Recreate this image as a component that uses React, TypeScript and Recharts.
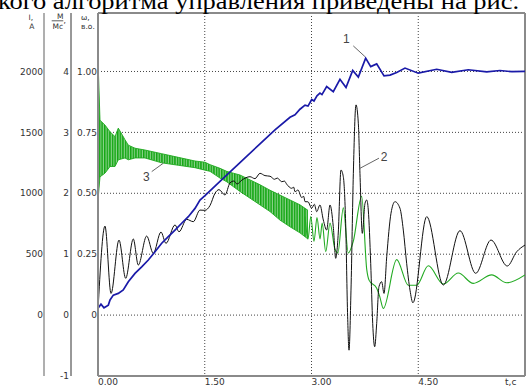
import React from 'react';
import {
  ComposedChart,
  Line,
  Area,
  XAxis,
  YAxis,
  CartesianGrid,
  ReferenceLine,
  ReferenceDot,
} from 'recharts';

// ---- tick values ----
const timeTicks = [0, 1.5, 3, 4.5];
const currentTicks = [0, 500, 1000, 1500, 2000];
const torqueTicks = [-1, 0, 1, 2, 3, 4];
const speedTicks = [0, 0.25, 0.5, 0.75, 1];

// ---- curve 1: speed ω, p.u. ----
const speedT = [0, 0.042, 0.084, 0.145, 0.169, 0.215, 0.285, 0.355, 0.426, 0.52, 0.614, 0.707, 0.801, 0.895, 0.988, 1.082, 1.176, 1.269, 1.363, 1.433, 1.503, 1.714, 1.995, 2.276, 2.487, 2.698, 2.768, 2.838, 2.909, 2.951, 3.003, 3.035, 3.077, 3.119, 3.147, 3.213, 3.306, 3.4, 3.485, 3.579, 3.658, 3.761, 3.832, 3.916, 4.019, 4.103, 4.197, 4.314, 4.5, 4.759, 4.97, 5.203, 5.462, 5.648, 5.817, 6.0];
const speedW = [0.028, 0.045, 0.03, 0.041, 0.062, 0.082, 0.089, 0.103, 0.137, 0.171, 0.198, 0.226, 0.26, 0.295, 0.322, 0.349, 0.377, 0.404, 0.438, 0.472, 0.49, 0.549, 0.626, 0.703, 0.76, 0.812, 0.822, 0.845, 0.862, 0.858, 0.885, 0.879, 0.9, 0.911, 0.905, 0.938, 0.917, 0.968, 0.934, 1.004, 0.977, 1.055, 1.02, 1.031, 0.982, 0.985, 0.996, 1.014, 0.993, 1.009, 0.996, 1.007, 0.998, 1.004, 0.999, 1.0];

// ---- curve 2: current I, A ----
const currentT = [0, 0.098, 0.183, 0.295, 0.389, 0.496, 0.566, 0.684, 0.777, 0.885, 0.955, 1.082, 1.138, 1.246, 1.339, 1.433, 1.503, 1.574, 1.644, 1.7, 1.784, 1.855, 1.911, 1.953, 2.023, 2.136, 2.206, 2.276, 2.346, 2.417, 2.48, 2.52, 2.581, 2.62, 2.651, 2.722, 2.75, 2.768, 2.81, 2.862, 2.89, 2.909, 2.95, 3.003, 3.04, 3.073, 3.119, 3.166, 3.213, 3.26, 3.306, 3.34, 3.376, 3.414, 3.447, 3.48, 3.508, 3.527, 3.555, 3.588, 3.625, 3.658, 3.681, 3.714, 3.752, 3.776, 3.798, 3.832, 3.86, 3.888, 3.916, 3.948, 3.986, 4.019, 4.057, 4.117, 4.173, 4.243, 4.29, 4.337, 4.384, 4.425, 4.619, 4.852, 5.086, 5.307, 5.522, 5.751, 5.883, 6.0];
const currentA = [40, 731, 178, 616, 302, 625, 411, 649, 507, 682, 589, 740, 684, 786, 767, 862, 860, 900, 1000, 1030, 986, 1085, 1101, 1076, 1109, 1136, 1120, 1164, 1145, 1140, 1115, 1125, 1095, 1100, 1075, 1041, 1050, 1013, 1027, 965, 975, 931, 930, 877, 910, 849, 904, 781, 698, 904, 726, 466, 674, 1191, 1136, 754, -14, -288, 205, 1164, 1726, 1575, 1164, 671, 918, 945, 863, 425, -68, -260, -68, 233, 274, 178, 479, 836, 931, 877, 698, 425, 205, 101, 808, 247, 693, 343, 616, 403, 520, 575];

// ---- curve 3: torque M/Mc, dense oscillation band (envelope) ----
const torqueBandT = [0, 0.028, 0.098, 0.169, 0.239, 0.285, 0.379, 0.426, 0.52, 0.66, 0.895, 1.128, 1.363, 1.503, 1.574, 1.714, 1.808, 1.901, 1.995, 2.136, 2.276, 2.417, 2.557, 2.698, 2.838, 2.95];
const torqueBandLo = [1.89, 2.27, 2.33, 2.44, 2.44, 2.55, 2.58, 2.55, 2.58, 2.58, 2.5, 2.46, 2.42, 2.38, 2.36, 2.25, 2.19, 2.11, 2.03, 1.92, 1.81, 1.7, 1.56, 1.45, 1.35, 1.25];
const torqueBandHi = [4.19, 3.2, 3.12, 3.01, 2.93, 3.07, 2.88, 2.79, 2.74, 2.71, 2.65, 2.59, 2.53, 2.51, 2.47, 2.41, 2.36, 2.33, 2.3, 2.22, 2.14, 2.05, 1.97, 1.89, 1.81, 1.72];

// ---- curve 3: torque M/Mc, resolved part ----
const torqueT = [2.909, 2.951, 2.99, 3.035, 3.077, 3.12, 3.15, 3.2, 3.26, 3.33, 3.37, 3.447, 3.517, 3.587, 3.705, 3.776, 3.81, 3.916, 3.96, 4.009, 4.197, 4.36, 4.478, 4.641, 4.852, 5.063, 5.273, 5.532, 5.743, 6.0];
const torqueM = [1.62, 1.25, 1.62, 1.21, 1.6, 1.25, 1.51, 1.04, 1.51, 1.08, 1.02, 1.76, 1.02, 1.21, 1.95, 0.75, 0.57, 0.44, 0.3, 0.11, 0.91, 0.49, 0.49, 0.81, 0.51, 0.69, 0.52, 0.66, 0.53, 0.66];

const speedData = speedT.map((t, i) => ({ t, v: speedW[i] }));
const currentData = currentT.map((t, i) => ({ t, v: currentA[i] }));
const bandData = torqueBandT.map((t, i) => ({ t, r: [torqueBandLo[i], torqueBandHi[i]] }));
const torqueData = torqueT.map((t, i) => ({ t, v: torqueM[i] }));

// axis ids: sorted order places "a" next to the plot, "c" outermost
const W_AXIS = 'a_speed';
const M_AXIS = 'b_torque';
const I_AXIS = 'c_current';

const FONT = 'DejaVu Sans, Verdana, sans-serif';
const TICK_COLOR = '#333';

const fmtSpeed = (v: number) => (v === 0 ? '0' : v.toFixed(2));

const makeYTick = (fmt: (v: number) => string) => (props: any) => (
  <text
    x={props.x}
    y={props.y}
    dy={3.2}
    textAnchor="end"
    fontSize={9}
    fontFamily={FONT}
    fill={TICK_COLOR}
  >
    {fmt(props.payload.value)}
  </text>
);

const XTick = (props: any) => (
  <text
    x={props.x}
    y={props.y + 9}
    textAnchor="start"
    fontSize={9}
    fontFamily={FONT}
    fill={TICK_COLOR}
  >
    {Number(props.payload.value).toFixed(2)}
  </text>
);

const LABEL_FONT = 'Liberation Sans, Arial, sans-serif';

export default function App() {
  return (
    <div
      style={{
        position: 'absolute',
        left: 0,
        top: 0,
        width: 527,
        height: 387,
        overflow: 'hidden',
        background: '#fff',
      }}
    >
      <ComposedChart
        width={527}
        height={387}
        margin={{ top: 13, right: 2, left: 17, bottom: 0 }}
      >
        <defs>
          <pattern id="bandHatch" patternUnits="userSpaceOnUse" width={2.6} height={8}>
            <rect x={0} y={0} width={2.6} height={8} fill="#8ed48e" />
            <rect x={0} y={0} width={1.5} height={8} fill="#12a612" />
          </pattern>
        </defs>
        <CartesianGrid
          yAxisId={I_AXIS}
          stroke="#444"
          strokeDasharray="1 2"
          strokeWidth={1}
        />
        <XAxis
          type="number"
          dataKey="t"
          domain={[0, 6]}
          ticks={timeTicks}
          interval={0}
          height={11}
          tickLine={false}
          tickSize={0}
          tickMargin={0}
          tick={XTick}
          axisLine={{ stroke: '#8a8a8a', strokeWidth: 2 }}
          allowDataOverflow
        />
        <YAxis
          yAxisId={W_AXIS}
          type="number"
          domain={[-0.25, 1.24]}
          ticks={speedTicks}
          interval={0}
          width={27}
          tickLine={false}
          tickSize={0}
          tickMargin={1}
          tick={makeYTick(fmtSpeed)}
          axisLine={{ stroke: '#8a8a8a', strokeWidth: 2 }}
          allowDataOverflow
        />
        <YAxis
          yAxisId={M_AXIS}
          type="number"
          domain={[-1, 4.96]}
          ticks={torqueTicks}
          interval={0}
          width={27}
          tickLine={false}
          tickSize={0}
          tickMargin={2}
          tick={makeYTick((v) => String(v))}
          axisLine={{ stroke: '#333', strokeWidth: 1 }}
          allowDataOverflow
        />
        <YAxis
          yAxisId={I_AXIS}
          type="number"
          domain={[-500, 2480]}
          ticks={currentTicks}
          interval={0}
          width={27}
          tickLine={false}
          tickSize={0}
          tickMargin={1}
          tick={makeYTick((v) => String(v))}
          axisLine={{ stroke: '#7a7a7a', strokeWidth: 1.2 }}
          allowDataOverflow
        />

        <ReferenceLine yAxisId={I_AXIS} y={2480} stroke="#8a8a8a" strokeWidth={2} />
        <ReferenceLine yAxisId={I_AXIS} x={6} stroke="#8a8a8a" strokeWidth={2} />

        <Area
          yAxisId={M_AXIS}
          data={bandData}
          dataKey="r"
          type="linear"
          stroke="#1ea81e"
          strokeWidth={0.9}
          fill="url(#bandHatch)"
          fillOpacity={1}
          isAnimationActive={false}
          activeDot={false}
          dot={false}
        />
        <Line
          yAxisId={M_AXIS}
          data={torqueData}
          dataKey="v"
          type="monotone"
          stroke="#22aa22"
          strokeWidth={1.1}
          dot={false}
          activeDot={false}
          isAnimationActive={false}
        />
        <Line
          yAxisId={I_AXIS}
          data={currentData}
          dataKey="v"
          type="monotone"
          stroke="#111"
          strokeWidth={1}
          dot={false}
          activeDot={false}
          isAnimationActive={false}
        />
        <Line
          yAxisId={W_AXIS}
          data={speedData}
          dataKey="v"
          type="linear"
          stroke="#1a1aa8"
          strokeWidth={1.7}
          dot={false}
          activeDot={false}
          isAnimationActive={false}
        />

        {/* curve labels with leaders */}
        <ReferenceLine
          yAxisId={I_AXIS}
          segment={[{ x: 3.587, y: 2210 }, { x: 3.751, y: 2122 }]}
          stroke="#666"
          strokeWidth={1}
        />
        <ReferenceLine
          yAxisId={I_AXIS}
          segment={[{ x: 3.948, y: 1288 }, { x: 3.681, y: 1205 }]}
          stroke="#666"
          strokeWidth={1}
        />
        <ReferenceLine
          yAxisId={I_AXIS}
          segment={[{ x: 0.755, y: 1178 }, { x: 0.918, y: 1247 }]}
          stroke="#666"
          strokeWidth={1}
        />
        <ReferenceDot
          yAxisId={I_AXIS}
          x={3.49}
          y={2268}
          r={0}
          fill="none"
          stroke="none"
          label={{ value: '1', position: 'center', fill: '#444', fontSize: 12, fontFamily: LABEL_FONT }}
        />
        <ReferenceDot
          yAxisId={I_AXIS}
          x={4.019}
          y={1298}
          r={0}
          fill="none"
          stroke="none"
          label={{ value: '2', position: 'center', fill: '#444', fontSize: 12, fontFamily: LABEL_FONT }}
        />
        <ReferenceDot
          yAxisId={I_AXIS}
          x={0.681}
          y={1134}
          r={0}
          fill="none"
          stroke="none"
          label={{ value: '3', position: 'center', fill: '#444', fontSize: 12, fontFamily: LABEL_FONT }}
        />
      </ComposedChart>

      <svg
        width={527}
        height={387}
        style={{ position: 'absolute', left: 0, top: 0, pointerEvents: 'none' }}
      >
        <text
          x={-2}
          y={8.5}
          fontFamily="Liberation Serif, Times New Roman, serif"
          fontSize={24}
          textLength={521}
          lengthAdjust="spacingAndGlyphs"
          fill="#000"
        >
          кого алгоритма управления приведены на рис.
        </text>
        <g fontFamily={FONT} fontSize={7.5} fill="#333">
          <text x={28.5} y={19.5}>I,</text>
          <text x={29.3} y={29}>A</text>
          <text x={57} y={19.2}>M</text>
          <line x1={51.7} y1={20.8} x2={63.3} y2={20.8} stroke="#333" strokeWidth={0.8} />
          <text x={52.5} y={28.8}>Mc</text>
          <text x={63.5} y={23}>,</text>
          <text x={81} y={19.5}>ω,</text>
          <text x={81} y={29}>в.о.</text>
        </g>
        <text x={505} y={385} fontFamily={FONT} fontSize={9} fill={TICK_COLOR}>
          t,c
        </text>
      </svg>
    </div>
  );
}
